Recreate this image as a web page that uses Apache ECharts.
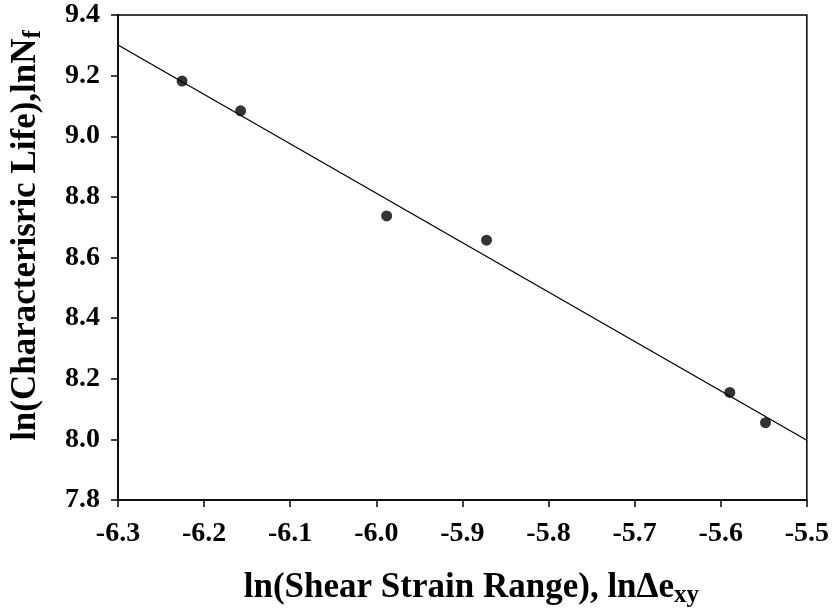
<!DOCTYPE html>
<html>
<head>
<meta charset="utf-8">
<script src="https://cdn.jsdelivr.net/npm/echarts@6/dist/echarts.min.js"></script>
<style>
  html, body { margin: 0; padding: 0; background: #fff; }
  #chart { width: 832px; height: 613px; }
</style>
</head>
<body>
<div id="chart"></div>
<script>
// Measured shear strain range (log) vs characteristic life (log)
const shearStrainLn = [-6.2256, -6.1576, -5.988, -5.872, -5.5895, -5.548];
const lifeLn = [9.182, 9.084, 8.737, 8.657, 8.155, 8.055];

// Fitted regression line end points
const fitX = [-6.3, -5.5];
const fitY = [9.301, 7.997];

// Axis ranges and tick steps
const xRange = [-6.3, -5.5];
const xStep = 0.1;
const yRange = [7.8, 9.4];
const yStep = 0.2;

const FONT = '"Liberation Serif", "Times New Roman", serif';

const chart = echarts.init(document.getElementById('chart'), null, { renderer: 'canvas' });

const axisCommon = {
  axisLine: { show: true, onZero: false, lineStyle: { color: '#000', width: 1.5 } },
  axisTick: { show: true, inside: false, length: 7, lineStyle: { color: '#000', width: 1.5 } },
  splitLine: { show: false },
  axisLabel: {
    color: '#000', fontFamily: FONT, fontWeight: 'bold', fontSize: 28,
    formatter: v => Number(v).toFixed(1)
  }
};

const titleRich = {
  a: { fontFamily: FONT, fontWeight: 'bold', fontSize: 35, color: '#000', lineHeight: 40 },
  s: { fontFamily: FONT, fontWeight: 'bold', fontSize: 25, color: '#000', lineHeight: 20, verticalAlign: 'bottom' }
};

chart.setOption({
  animation: false,
  backgroundColor: '#fff',
  grid: {
    left: 118, right: 23, top: 15, bottom: 113,
    show: true, borderColor: '#000', borderWidth: 1.5, backgroundColor: 'transparent'
  },
  xAxis: Object.assign({}, axisCommon, {
    type: 'value',
    min: xRange[0], max: xRange[1], interval: xStep,
    axisLabel: Object.assign({}, axisCommon.axisLabel, { margin: 20 }),
    name: '{a|ln(Shear Strain Range), ln\u0394e}{s|xy}',
    nameLocation: 'middle',
    nameGap: 68,
    nameTextStyle: { padding: [0, 0, 0, 18], rich: titleRich }
  }),
  yAxis: Object.assign({}, axisCommon, {
    type: 'value',
    min: yRange[0], max: yRange[1], interval: yStep,
    axisLabel: Object.assign({}, axisCommon.axisLabel, { margin: 18 }),
    name: '{a|ln(Characterisric Life),lnN}{s|f}',
    nameLocation: 'middle',
    nameGap: 72,
    nameRotate: 90,
    nameTextStyle: { padding: [0, 0, 0, 44], rich: titleRich }
  }),
  series: [
    {
      type: 'line',
      data: fitX.map((x, i) => [x, fitY[i]]),
      showSymbol: false,
      symbol: 'none',
      lineStyle: { color: '#000', width: 1.3 },
      silent: true,
      z: 2
    },
    {
      type: 'scatter',
      data: shearStrainLn.map((x, i) => [x, lifeLn[i]]),
      symbol: 'circle',
      symbolSize: 11,
      itemStyle: { color: '#000' },
      z: 3
    }
  ]
});
</script>
</body>
</html>
